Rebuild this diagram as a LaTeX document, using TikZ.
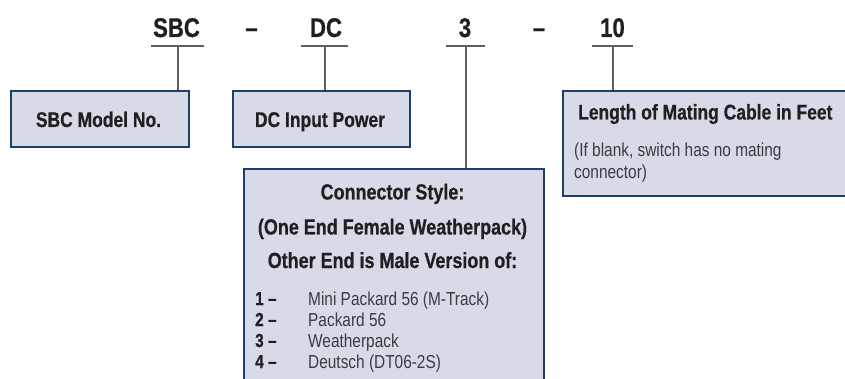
\documentclass[tikz,border=0pt]{standalone}
\usepackage{fontspec}
\setmainfont{Liberation Sans}[FakeStretch=0.82, BoldFeatures={FakeBold=0.6}]
\definecolor{boxfill}{RGB}{216,218,232}
\definecolor{boxline}{RGB}{30,62,108}
\definecolor{leader}{RGB}{95,95,95}
\definecolor{ink}{RGB}{35,31,32}
\definecolor{softink}{RGB}{60,60,62}
\begin{document}
\begin{tikzpicture}[x=1pt,y=-1pt,
  infobox/.style={draw=boxline, line width=2pt, fill=boxfill, inner sep=0pt, anchor=north west},
  codetitle/.style={font=\bfseries\fontsize{27}{30}\selectfont, text=ink, anchor=base, inner sep=0pt},
  boxlabel/.style={font=\bfseries\fontsize{21.3}{24}\selectfont, text=ink, anchor=base, inner sep=0pt},
  headlabel/.style={boxlabel, font=\bfseries\fontsize{21.9}{24}\selectfont},
  itemnum/.style={font=\bfseries\fontsize{18.8}{22}\selectfont, text=ink, anchor=base west, inner sep=0pt},
  notetext/.style={font=\fontsize{18.8}{22}\selectfont, text=softink, anchor=base west, inner sep=0pt},
  leaderline/.style={draw=leader, line width=1.3pt}]
\useasboundingbox (0,0) rectangle (845,379);
\clip (0,0) rectangle (845,379);

% boxes
\node[infobox, minimum width=178pt, minimum height=56pt] (b1) at (9.5,90.5) {};
\node[infobox, minimum width=177pt, minimum height=56pt] (b2) at (231.5,90.5) {};
\node[infobox, minimum width=290pt, minimum height=105pt] (b4) at (561.5,90.5) {};
\node[infobox, minimum width=300pt, minimum height=220pt] (b3) at (242.5,168.5) {};

% code titles
\node[codetitle] (t1) at (176.5,37) {SBC};
\node[codetitle] (d1) at (251.5,37) {–};
\node[codetitle] (t2) at (326,37) {DC};
\node[codetitle] (t3) at (465,37) {3};
\node[codetitle] (d2) at (539,37) {–};
\node[codetitle] (t4) at (612.5,37) {10};

% underlines and leaders
\coordinate (u1) at (178,46);
\coordinate (u2) at (325,46);
\coordinate (u3) at (466,46);
\coordinate (u4) at (613,46);
\draw[leaderline] (151,46) -- (204,46);
\draw[leaderline] (301,46) -- (348,46);
\draw[leaderline] (446,46) -- (485,46);
\draw[leaderline] (592,46) -- (633,46);
\draw[leaderline] (u1) -- (u1 |- b1.north);
\draw[leaderline] (u2) -- (u2 |- b2.north);
\draw[leaderline] (u3) -- (u3 |- b3.north);
\draw[leaderline] (u4) -- (u4 |- b4.north);

% box texts
\node[boxlabel] (l1) at (98.5,127) {SBC Model No.};
\node[boxlabel] (l2) at (320,127) {DC Input Power};
\node[boxlabel, anchor=base west] (l4) at (578,119.5) {Length of Mating Cable in Feet};
\node[notetext] (n1) at (574,157) {(If blank, switch has no mating};
\node[notetext] (n2) at (574,178.5) {connector)};

\node[headlabel] (c1) at (392.5,199.5) {Connector Style:};
\node[headlabel] (c2) at (392.5,234.5) {(One End Female Weatherpack)};
\node[headlabel] (c3) at (392.5,268) {Other End is Male Version of:};

\node[itemnum] (i1) at (255,305) {1 –};
\node[itemnum] (i2) at (255,326) {2 –};
\node[itemnum] (i3) at (255,347) {3 –};
\node[itemnum] (i4) at (255,368) {4 –};
\node[notetext] (s1) at (308,305) {Mini Packard 56 (M-Track)};
\node[notetext] (s2) at (308,326) {Packard 56};
\node[notetext] (s3) at (308,347) {Weatherpack};
\node[notetext] (s4) at (308,368) {Deutsch (DT06-2S)};
\end{tikzpicture}
\end{document}
